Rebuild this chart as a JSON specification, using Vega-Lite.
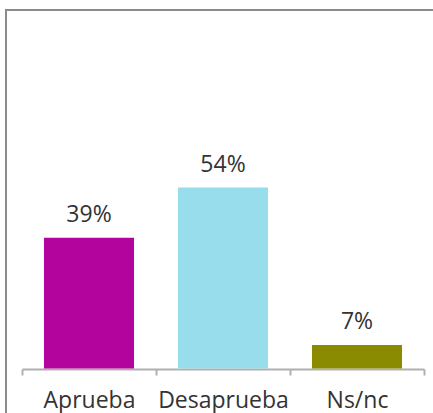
{
  "$schema": "https://vega.github.io/schema/vega-lite/v6.json",
  "autosize": {"type": "none"},
  "padding": {"left": 6, "top": 10, "right": 0, "bottom": 0},
  "width": 434,
  "height": 420,
  "background": "white",
  "config": {
    "view": {"stroke": "#8c8c8c", "strokeWidth": 2},
    "font": "Open Sans"
  },
  "data": {
    "values": [
      {"cat": "Aprueba", "pct": 0.39},
      {"cat": "Desaprueba", "pct": 0.54},
      {"cat": "Ns/nc", "pct": 0.07}
    ]
  },
  "encoding": {
    "x": {
      "field": "cat",
      "type": "nominal",
      "sort": null,
      "scale": {"range": [16, 418], "paddingInner": 0, "paddingOuter": 0},
      "axis": {
        "title": null,
        "orient": "bottom",
        "offset": -61,
        "labelAngle": 0,
        "labelFont": "Open Sans",
        "labelFontSize": 23,
        "labelColor": "#333333",
        "labelBaseline": "alphabetic",
        "labelPadding": 32,
        "tickBand": "extent",
        "tickSize": 6,
        "tickColor": "#b0b0b0",
        "tickWidth": 2,
        "domainColor": "#b0b0b0",
        "domainWidth": 2,
        "grid": false
      }
    },
    "y": {
      "field": "pct",
      "type": "quantitative",
      "scale": {"domain": [-0.1836, 1.07], "nice": false, "zero": false},
      "axis": null
    }
  },
  "layer": [
    {
      "mark": {"type": "bar", "width": {"band": 0.672}},
      "encoding": {
        "y2": {"datum": 0},
        "color": {
          "field": "cat",
          "type": "nominal",
          "scale": {"domain": ["Aprueba", "Desaprueba", "Ns/nc"], "range": ["#b4049e", "#98ddec", "#8a8b00"]},
          "legend": null
        }
      }
    },
    {
      "mark": {"type": "text", "baseline": "alphabetic", "dy": -16, "font": "Open Sans", "fontSize": 23, "color": "#333333"},
      "encoding": {
        "text": {"field": "pct", "type": "quantitative", "format": ".0%"}
      }
    }
  ]
}
